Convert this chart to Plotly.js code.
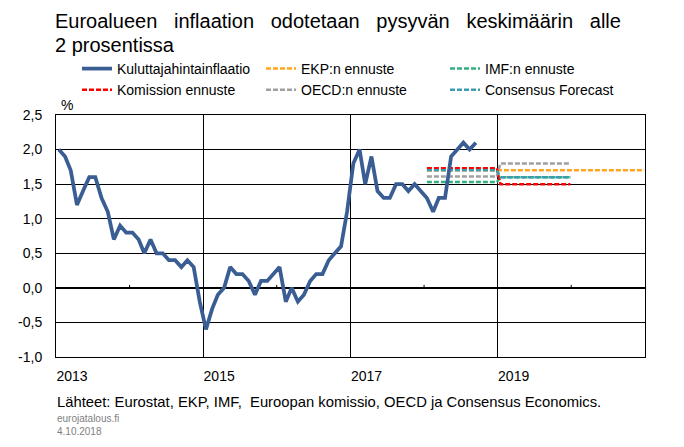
<!DOCTYPE html>
<html>
<head>
<meta charset="utf-8">
<script src="https://cdn.plot.ly/plotly-3.0.1.min.js"></script>
<style>html,body{margin:0;padding:0;background:#fff;}#chart{width:684px;height:447px;}</style>
</head>
<body>
<div id="chart"></div>
<script>
// Euro area HICP inflation, % y/y, monthly from Jan 2013 to Sep 2018
const hicpStart = [2013, 1];
const hicpValues = [
  2.0, 1.9, 1.7, 1.2, 1.4, 1.6, 1.6, 1.3, 1.1, 0.7, 0.9, 0.8,
  0.8, 0.7, 0.5, 0.7, 0.5, 0.5, 0.4, 0.4, 0.3, 0.4, 0.3, -0.2,
  -0.6, -0.3, -0.1, 0.0, 0.3, 0.2, 0.2, 0.1, -0.1, 0.1, 0.1, 0.2,
  0.3, -0.2, 0.0, -0.2, -0.1, 0.1, 0.2, 0.2, 0.4, 0.5, 0.6, 1.1,
  1.8, 2.0, 1.5, 1.9, 1.4, 1.3, 1.3, 1.5, 1.5, 1.4, 1.5, 1.4,
  1.3, 1.1, 1.3, 1.3, 1.9, 2.0, 2.1, 2.0, 2.1
];

// Annual forecasts (drawn flat over each forecast year)
const forecastYears2 = [2018, 2019];
const forecastYears3 = [2018, 2019, 2020];
const ecbForecast = [1.7, 1.7, 1.7];
const imfForecast = [1.53, 1.6];
const commissionForecast = [1.73, 1.5];
const oecdForecast = [1.61, 1.8];
const consensusForecast = [1.7, 1.6];

// Axis ticks
const xTickYears = [2013, 2015, 2017, 2019, 2021];
const xTickLabels = ['2013', '2015', '2017', '2019', ''];
const xMinorTickYears = [2014, 2016, 2018, 2020];
const yTickVals = [-1, -0.5, 0, 0.5, 1, 1.5, 2, 2.5];
const yTickLabels = ['-1,0', '-0,5', '0,0', '0,5', '1,0', '1,5', '2,0', '2,5'];

const names = {
  hicp: 'Kuluttajahintainflaatio',
  ecb: 'EKP:n ennuste',
  imf: 'IMF:n ennuste',
  com: 'Komission ennuste',
  oecd: 'OECD:n ennuste',
  cons: 'Consensus Forecast'
};

function pad(n){ return (n < 10 ? '0' : '') + n; }
function monthDates(start, count){
  const out = [];
  let y = start[0], m = start[1];
  for (let i = 0; i < count; i++) {
    out.push(y + '-' + pad(m) + '-15');
    m++; if (m > 12) { m = 1; y++; }
  }
  return out;
}
function annualSeries(years, vals){
  const x = [], y = [];
  years.forEach((yr, i) => {
    x.push(yr + '-01-15'); y.push(vals[i]);
    x.push(yr + '-12-28'); y.push(vals[i]);
  });
  return {x, y};
}

const dash = '5px,2px';
function fcTrace(years, vals, name, color, rank){
  const s = annualSeries(years, vals);
  return {
    x: s.x, y: s.y, name: name, type: 'scatter', mode: 'lines',
    line: {color: color, width: 2.5, dash: dash},
    legendrank: rank, hoverinfo: 'skip'
  };
}

const traces = [
  fcTrace(forecastYears3, ecbForecast, names.ecb, '#FFA51F', 2),
  fcTrace(forecastYears2, imfForecast, names.imf, '#35AF7F', 3),
  fcTrace(forecastYears2, oecdForecast, names.oecd, '#A0A0A0', 5),
  fcTrace(forecastYears2, commissionForecast, names.com, '#FF0000', 4),
  fcTrace(forecastYears2, consensusForecast, names.cons, '#3C9CB0', 6),
  {
    x: monthDates(hicpStart, hicpValues.length), y: hicpValues,
    name: names.hicp, type: 'scatter', mode: 'lines',
    line: {color: '#3A5E94', width: 3.75},
    legendrank: 1
  }
];

const minorTickShapes = xMinorTickYears.map(yr => ({
  type: 'line', xref: 'x', yref: 'y', ysizemode: 'pixel', yanchor: 0,
  x0: yr + '-01-01', x1: yr + '-01-01', y0: 0, y1: 3,
  line: {color: '#000', width: 1}
}));

const font = 'Liberation Sans, Arial, sans-serif';
const sp = '\u00A0\u00A0 ';
const titleLine1 = ['Euroalueen', 'inflaation', 'odotetaan', 'pysyvän', 'keskimäärin', 'alle'].join(sp);

const layout = {
  width: 684, height: 447,
  margin: {l: 56, r: 39, t: 115, b: 90, autoexpand: false},
  paper_bgcolor: '#fff', plot_bgcolor: '#fff',
  font: {family: font, size: 14, color: '#000'},
  showlegend: true,
  legend: {
    orientation: 'h', xref: 'container', yref: 'container',
    x: 77 / 684, xanchor: 'left', y: (447 - 53) / 447, yanchor: 'top',
    entrywidth: 139, entrywidthmode: 'pixels',
    font: {family: font, size: 14, color: '#000'},
    bgcolor: 'rgba(0,0,0,0)', tracegroupgap: 0, itemwidth: 30
  },
  xaxis: {
    type: 'date', range: ['2013-01-01', '2021-01-01'],
    tickvals: xTickYears.map(y => y + '-01-01'), ticktext: xTickLabels,
    ticks: '', showgrid: true, gridcolor: '#000', gridwidth: 1,
    showline: true, linecolor: '#000', linewidth: 1, mirror: true,
    zeroline: false, ticklabelshift: 16, ticklabelstandoff: 6,
    tickfont: {family: font, size: 14, color: '#000'}, fixedrange: true
  },
  yaxis: {
    range: [-1, 2.5], tickvals: yTickVals, ticktext: yTickLabels,
    ticks: '', showgrid: true, gridcolor: '#000', gridwidth: 1,
    showline: true, linecolor: '#000', linewidth: 1, mirror: true,
    zeroline: true, zerolinecolor: '#000', zerolinewidth: 1.5,
    ticklabelstandoff: 10,
    tickfont: {family: font, size: 14, color: '#000'}, fixedrange: true
  },
  shapes: minorTickShapes,
  annotations: [
    {text: titleLine1, xref: 'paper', yref: 'paper', x: 0, y: 1, xanchor: 'left', yanchor: 'middle',
     xshift: -3, yshift: 94, showarrow: false, font: {family: font, size: 20, color: '#000'}},
    {text: '2 prosentissa', xref: 'paper', yref: 'paper', x: 0, y: 1, xanchor: 'left', yanchor: 'middle',
     xshift: -3, yshift: 70, showarrow: false, font: {family: font, size: 20, color: '#000'}},
    {text: '%', xref: 'paper', yref: 'paper', x: 0, y: 1, xanchor: 'left', yanchor: 'middle',
     xshift: 3, yshift: 10, showarrow: false, font: {family: font, size: 14, color: '#000'}},
    {text: 'Lähteet: Eurostat, EKP, IMF,  Euroopan komissio, OECD ja Consensus Economics.',
     xref: 'paper', yref: 'paper', x: 0, y: 0, xanchor: 'left', yanchor: 'middle',
     xshift: -1, yshift: -45, showarrow: false, font: {family: font, size: 14.8, color: '#000'}},
    {text: 'eurojatalous.fi', xref: 'paper', yref: 'paper', x: 0, y: 0, xanchor: 'left', yanchor: 'middle',
     xshift: -1, yshift: -61, showarrow: false, font: {family: font, size: 10, color: '#808080'}},
    {text: '4.10.2018', xref: 'paper', yref: 'paper', x: 0, y: 0, xanchor: 'left', yanchor: 'middle',
     xshift: -1, yshift: -74, showarrow: false, font: {family: font, size: 10, color: '#808080'}}
  ]
};

Plotly.newPlot('chart', traces, layout, {displayModeBar: false, staticPlot: true});
</script>
</body>
</html>
